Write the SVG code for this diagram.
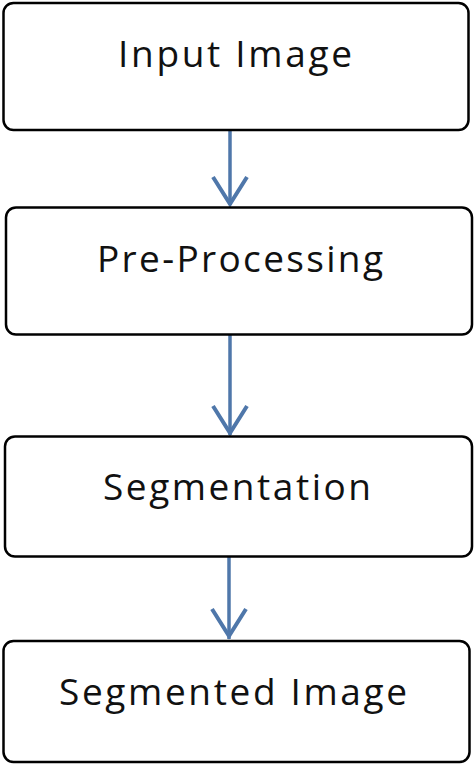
<svg xmlns="http://www.w3.org/2000/svg" width="474" height="765" viewBox="0 0 474 765">
<style>
.box{fill:#fff;stroke:#000;stroke-width:2.5}
.lbl{font-family:"Open Sans","Noto Sans",sans-serif;font-size:37px;fill:#111;text-anchor:middle}
.conn{stroke:#4f77aa;stroke-width:3.5;fill:none}
.head{stroke:#4f77aa;stroke-width:4;fill:none;stroke-linejoin:miter}
</style>
<rect width="474" height="765" fill="#fff"/>
<g id="connectors">
<line class="conn" x1="230" y1="131" x2="230" y2="205"/>
<polyline class="head" points="213,177 230,204 247,177"/>
<line class="conn" x1="230" y1="335" x2="230" y2="435"/>
<polyline class="head" points="213,406 230,433 247,406"/>
<line class="conn" x1="229" y1="557" x2="229" y2="639"/>
<polyline class="head" points="212,609 229,636 246,609"/>
</g>
<g id="node-input">
<rect class="box" x="3.5" y="3" width="465" height="127" rx="10"/>
<text class="lbl" x="235" y="67" textLength="234" lengthAdjust="spacing">Input Image</text>
</g>
<g id="node-preprocessing">
<rect class="box" x="6" y="207.5" width="466" height="127" rx="10"/>
<text class="lbl" x="240" y="272" textLength="286" lengthAdjust="spacing">Pre-Processing</text>
</g>
<g id="node-segmentation">
<rect class="box" x="5" y="436.5" width="467" height="120" rx="10"/>
<text class="lbl" x="237" y="500" textLength="268" lengthAdjust="spacing">Segmentation</text>
</g>
<g id="node-segmented">
<rect class="box" x="3.5" y="641" width="466" height="121" rx="10"/>
<text class="lbl" x="233" y="705" textLength="348" lengthAdjust="spacing">Segmented Image</text>
</g>
</svg>
